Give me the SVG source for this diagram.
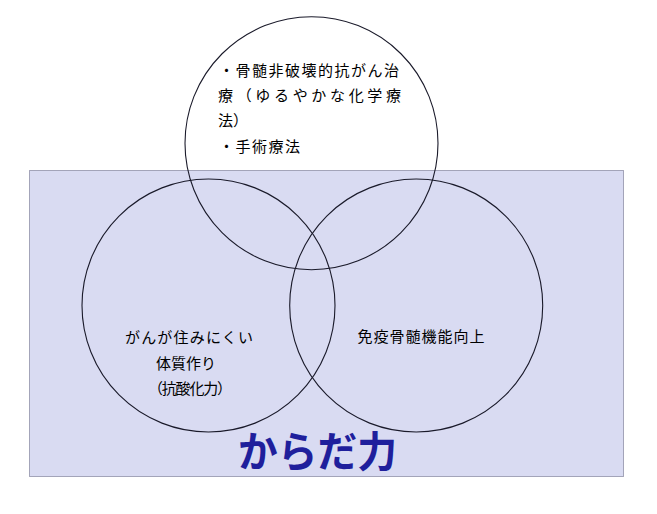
<svg xmlns="http://www.w3.org/2000/svg" width="657" height="514" viewBox="0 0 657 514">
<style>
.c{fill:none;stroke:#1a1a2a;stroke-width:1.1}
.t{font-family:"Noto Sans CJK JP","Noto Sans CJK SC",sans-serif;font-size:15px;fill:#000}
.m{text-anchor:middle}
.big{font-family:"Noto Sans CJK JP","Noto Sans CJK SC",sans-serif;font-size:42px;font-weight:bold;fill:#1f1f9c}
</style>
<rect width="657" height="514" fill="#ffffff"/>
<g id="body-area">
<rect x="29.5" y="170.5" width="594" height="306" fill="#d9dbf2" stroke="#5a5a7a" stroke-width="1" stroke-dasharray="1,1"/>
<text class="big" x="238" y="467" textLength="159" lengthAdjust="spacingAndGlyphs">からだ力</text>
</g>
<g id="node-top">
<circle class="c" cx="311.5" cy="143.2" r="126.5"/>
<text class="t" x="219" y="76" textLength="180" lengthAdjust="spacing">・骨髄非破壊的抗がん治</text>
<text class="t" x="218" y="101" textLength="183" lengthAdjust="spacing">療（ゆるやかな化学療</text>
<text class="t" x="218" y="126">法）</text>
<text class="t" x="219" y="152" textLength="81" lengthAdjust="spacing">・手術療法</text>
</g>
<g id="node-left">
<circle class="c" cx="208.5" cy="305.5" r="126.5"/>
<text class="t m" x="189" y="343" textLength="128" lengthAdjust="spacing">がんが住みにくい</text>
<text class="t m" x="186" y="369">体質作り</text>
<text class="t m" x="190" y="394" textLength="84" lengthAdjust="spacing">（抗酸化力）</text>
</g>
<g id="node-right">
<circle class="c" cx="416.2" cy="305.5" r="126.5"/>
<text class="t m" x="421" y="342" textLength="127" lengthAdjust="spacing">免疫骨髄機能向上</text>
</g>
<g id="connectors"></g>
</svg>
